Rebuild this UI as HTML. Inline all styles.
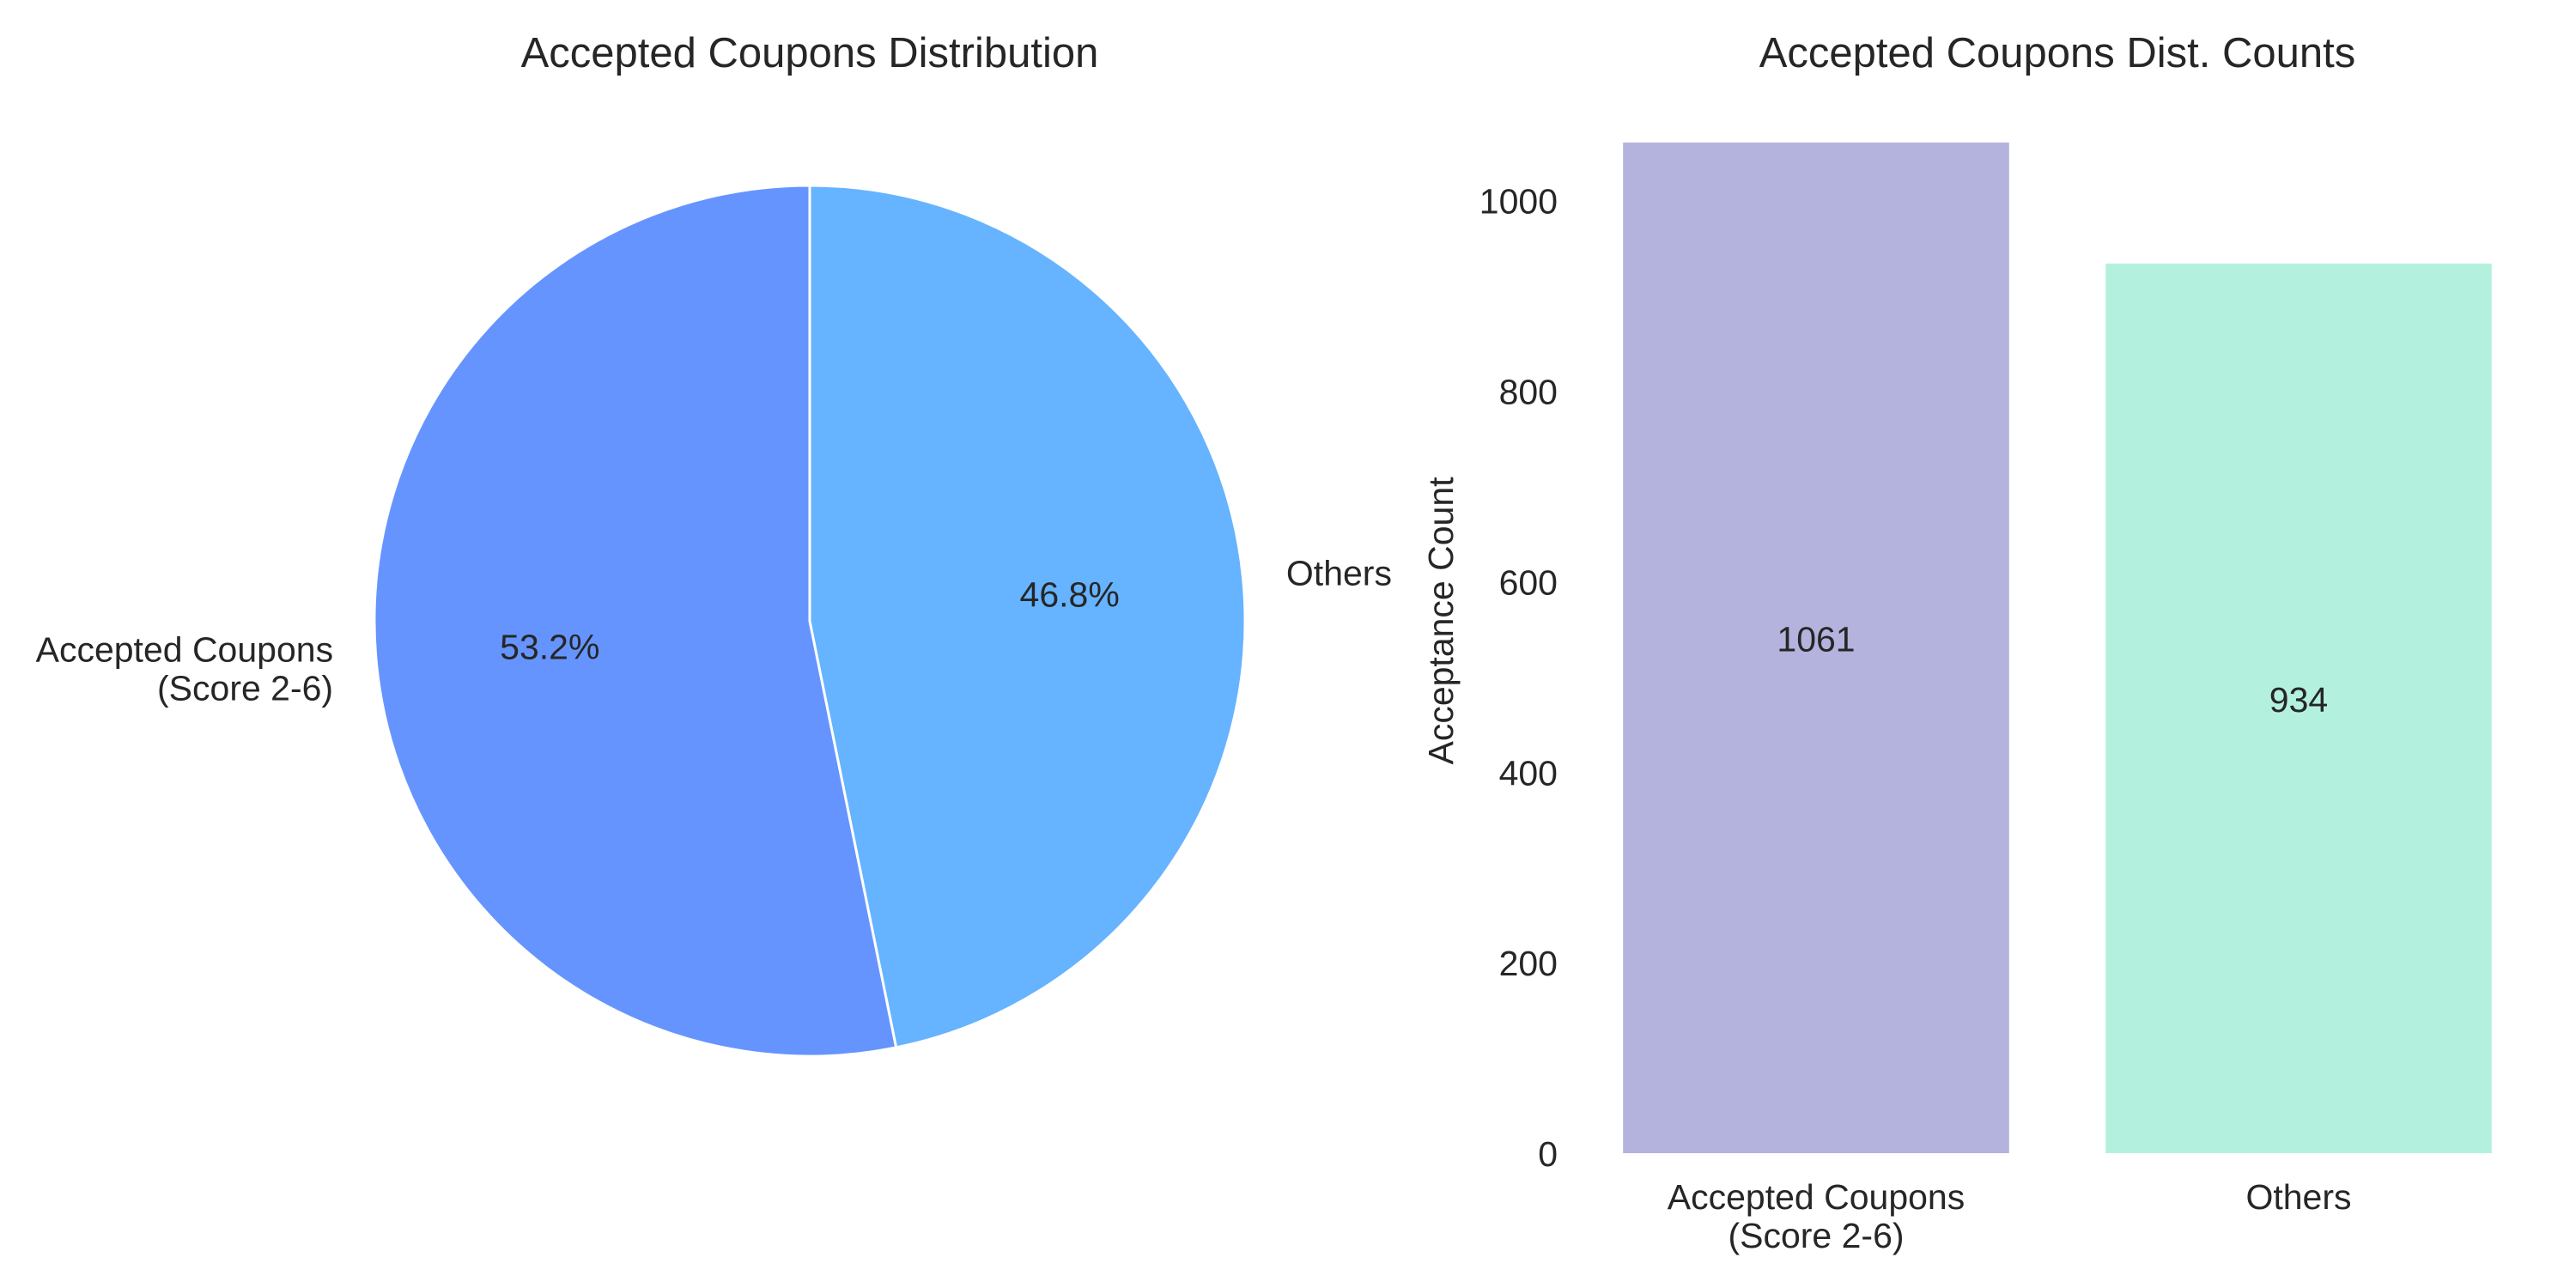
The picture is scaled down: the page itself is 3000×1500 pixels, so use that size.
<!DOCTYPE html>
<html><head><meta charset="utf-8"><style>
html,body{margin:0;padding:0;background:#fff}
svg{display:block;font-family:"Liberation Sans",Arial,sans-serif;fill:#262626}
</style></head><body>
<svg id="c" width="3000" height="1500" viewBox="0 0 3000 1500">
<text x="943" y="78" font-size="49" text-anchor="middle">Accepted Coupons Distribution</text>
<text x="2396" y="78" font-size="49" text-anchor="middle">Accepted Coupons Dist. Counts</text>
<g id="pie"></g>
<g id="bars"></g>
<text transform="translate(1692,723) rotate(-90)" font-size="41" text-anchor="middle">Acceptance Count</text>
</svg>
<script>
const categories = ["Accepted Coupons\n(Score 2-6)", "Others"];
const counts = [1061, 934];
const pieColors = ["#6694ff", "#66b3ff"];
const barColors = ["#b3b3dd", "#b3f1de"];
const yTicks = [0, 200, 400, 600, 800, 1000];

const NS = "http://www.w3.org/2000/svg";
function mk(tag, attrs, parent){const e=document.createElementNS(NS,tag);for(const k in attrs)e.setAttribute(k,attrs[k]);parent.appendChild(e);return e;}
function multiText(parent, x, y, lines, size, anchor, lh){
  const t=mk("text",{x:x,y:y,"font-size":size,"text-anchor":anchor},parent);
  lines.forEach((l,i)=>{const s=mk("tspan",{x:x,dy:i?lh:0},t);s.textContent=l;});
  return t;
}
const FS=41;
// Pie
const pie=document.getElementById("pie");
const cx=943, cy=723, R=507;
const total=counts.reduce((a,b)=>a+b,0);
let ang=90;
counts.forEach((v,i)=>{
  const sweep=v/total*360;
  const a0=ang*Math.PI/180, a1=(ang+sweep)*Math.PI/180;
  const x0=cx+R*Math.cos(a0), y0=cy-R*Math.sin(a0);
  const x1=cx+R*Math.cos(a1), y1=cy-R*Math.sin(a1);
  const large=sweep>180?1:0;
  const p=mk("path",{d:`M${cx},${cy} L${x0},${y0} A${R},${R} 0 ${large} 0 ${x1},${y1} Z`,fill:pieColors[i],stroke:"#fff","stroke-width":3,"stroke-linejoin":"round"},pie);
  
  
  const mid=(ang+sweep/2)*Math.PI/180;
  const px=cx+0.6*R*Math.cos(mid), py=cy-0.6*R*Math.sin(mid);
  const pt=mk("text",{x:px,y:py+14,"font-size":FS,"text-anchor":"middle"},pie);
  pt.textContent=(v/total*100).toFixed(1)+"%";
  
  
  const lx=cx+1.1*R*Math.cos(mid), ly=cy-1.1*R*Math.sin(mid);
  const lines=categories[i].split("\n");
  const anchor=Math.cos(mid)<0?"end":"start";
  const lt=multiText(pie,lx,ly+14-(lines.length-1)*22,lines,FS,anchor,45);
  
  
  ang+=sweep;
});
// Bars
const bars=document.getElementById("bars");
const y0px=1343, pxPer=1.1093;
const yS=v=>y0px-v*pxPer;
const bandL=1834, bandW=1124, n=categories.length, step=bandW/n, bw=step*0.8;
yTicks.forEach(t=>{
  const tt=mk("text",{x:1814,y:yS(t)+15,"font-size":FS,"text-anchor":"end"},bars);
  tt.textContent=t;
  
  
});
counts.forEach((v,i)=>{
  const xc=bandL+step*(i+0.5);
  const r=mk("rect",{x:xc-bw/2,y:yS(v),width:bw,height:y0px-yS(v),fill:barColors[i]},bars);
  
  
  const vt=mk("text",{x:xc,y:yS(v/2)+4,"font-size":FS,"text-anchor":"middle"},bars);
  vt.textContent=v;
  
  
  const xt=multiText(bars,xc,1408,categories[i].split("\n"),FS,"middle",45);
  
  
});
</script>
</body></html>
